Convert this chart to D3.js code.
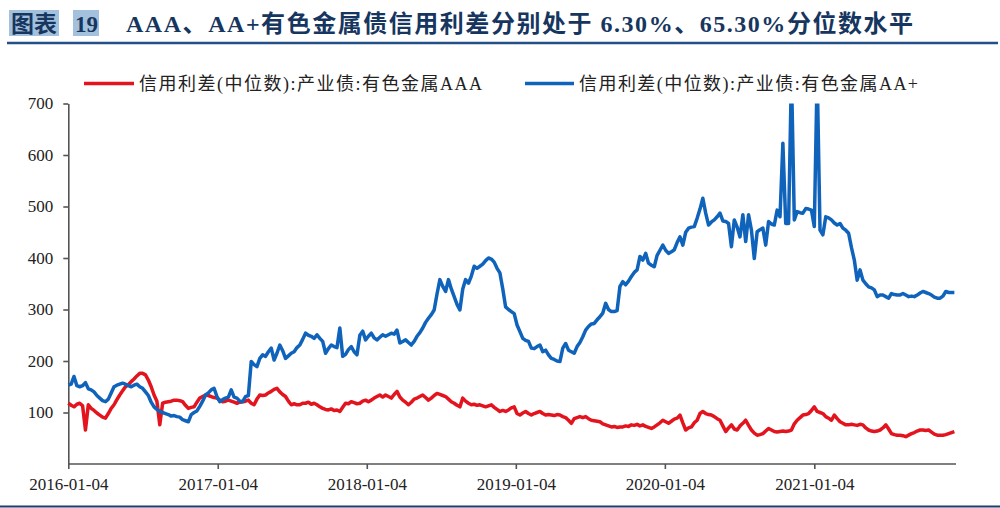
<!DOCTYPE html>
<html><head><meta charset="utf-8">
<script src="https://cdn.jsdelivr.net/npm/d3@7"></script>
<style>html,body{margin:0;padding:0;background:#fff;}svg{display:block;}</style>
</head><body>
<svg id="chart" width="1000" height="508"></svg>
<script>
// ---- data ----
const startDate = "2016-01-04";   // weekly observations start
const endDate = "2021-12-17";     // axis end
const xTickLabels = ["2016-01-04","2017-01-04","2018-01-04","2019-01-04","2020-01-04","2021-01-04"];
const yTickValues = [100,200,300,400,500,600,700];
const seriesNames = ["信用利差(中位数):产业债:有色金属AAA","信用利差(中位数):产业债:有色金属AA+"];
const aaaValues = [
118,114,111,116,118,113,66,115,108,104,99,95,91,89,98,108,115,125,134,142,
150,154,160,165,171,176,176,173,163,150,134,122,76,118,120,121,122,124,124,123,
121,114,108,110,111,120,128,131,134,133,131,129,128,124,121,122,124,122,120,118,
120,121,122,124,118,115,126,134,133,134,138,141,145,147,140,135,131,122,115,117,
115,115,118,118,120,116,118,115,111,108,106,105,107,104,105,102,110,118,117,121,
119,117,118,122,124,121,124,128,131,134,130,134,131,128,135,141,130,124,120,115,
120,126,128,131,134,129,124,128,133,137,135,133,131,126,121,118,114,111,128,122,
118,115,116,114,115,113,111,113,115,110,106,102,104,102,105,109,111,98,95,99,
102,98,95,98,100,102,98,95,96,95,94,96,95,92,90,85,79,88,90,92,
90,92,88,85,84,83,82,78,76,74,72,73,71,72,72,74,73,76,75,77,
74,76,73,71,69,72,76,80,85,82,79,83,87,89,95,80,66,70,72,80,
85,98,102,98,96,95,92,88,85,74,63,70,76,68,66,74,79,85,75,66,
60,56,57,59,64,69,66,63,62,63,64,63,64,66,78,85,90,95,96,98,
104,111,102,100,98,92,89,85,95,88,82,79,76,76,77,76,75,77,76,70,
66,64,63,64,66,70,76,68,59,57,56,56,55,53,56,59,61,64,66,66,
65,66,62,58,56,56,56,57,59,61,63
];
const aaPlusValues = [
153,155,170,152,150,152,158,146,144,140,133,128,123,121,126,138,150,153,155,157,
155,152,150,153,155,150,147,140,133,120,111,106,102,100,98,96,93,94,92,91,
86,84,82,96,100,103,112,122,134,138,144,147,131,121,125,128,130,144,130,128,
122,121,131,133,199,193,189,205,212,209,218,225,202,215,231,220,205,210,215,218,
226,231,242,254,250,248,244,251,244,238,215,224,231,228,226,264,209,213,222,228,
218,212,250,258,241,248,254,245,241,246,251,248,251,254,252,260,235,238,241,236,
231,238,248,255,264,275,283,290,299,330,358,345,335,358,340,325,310,299,340,358,
351,365,384,380,384,388,395,400,398,392,380,371,340,305,300,296,292,270,257,244,
240,238,225,224,228,231,218,221,212,205,203,200,199,225,234,221,218,215,228,236,
247,260,267,272,273,280,286,293,312,300,296,296,298,345,354,348,355,364,372,377,
403,396,409,390,386,383,405,415,425,415,409,412,416,430,441,425,450,458,460,461,
477,495,516,487,464,470,474,480,487,472,471,467,422,474,460,441,484,432,484,454,
399,451,455,458,425,471,466,464,493,480,623,467,467,760,474,490,488,487,496,495,
493,461,760,454,445,480,478,474,468,464,467,458,454,448,420,396,357,377,357,350,
344,342,338,325,328,328,325,322,331,329,328,328,331,328,325,326,325,328,332,335,
333,331,328,324,322,322,326,335,333,333,333
];
const seriesColors = ["#E3141E","#0F63BB"];

// ---- chart ----
const svg = d3.select("#chart");
const parse = d3.utcParse("%Y-%m-%d");
const t0 = parse(startDate);
const weeks = aaaValues.map((_, i) => d3.utcDay.offset(t0, 7 * i));

const x = d3.scaleUtc().domain([t0, parse(endDate)]).range([68.3, 956]);
const y = d3.scaleLinear().domain([0, 700]).range([464, 103.5]);

// Title
const navy = "#17365f";
svg.append("rect").attr("x", 9).attr("y", 10).attr("width", 50).attr("height", 26).attr("fill", "#a3c0dc");
svg.append("rect").attr("x", 73).attr("y", 10).attr("width", 26).attr("height", 26).attr("fill", "#a3c0dc");
const titleFont = "'Liberation Serif','Noto Sans CJK SC',serif";
svg.append("text").attr("x", 11).attr("y", 31.5).attr("font-family", titleFont).attr("font-weight", "bold")
  .attr("font-size", 23).attr("fill", navy).attr("textLength", 46).attr("lengthAdjust", "spacingAndGlyphs").text("图表");
svg.append("text").attr("x", 75).attr("y", 31.5).attr("font-family", titleFont).attr("font-weight", "bold")
  .attr("font-size", 23).attr("fill", navy).text("19");
svg.append("text").attr("x", 126).attr("y", 31.5).attr("font-family", titleFont).attr("font-weight", "bold")
  .attr("font-size", 24).attr("fill", navy).attr("textLength", 787).attr("lengthAdjust", "spacing")
  .text("AAA、AA+有色金属债信用利差分别处于 6.30%、65.30%分位数水平");
svg.append("line").attr("x1", 7).attr("x2", 998).attr("y1", 43).attr("y2", 43)
  .attr("stroke", "#24508a").attr("stroke-width", 2.6);
svg.append("line").attr("x1", 0).attr("x2", 1000).attr("y1", 506.5).attr("y2", 506.5)
  .attr("stroke", "#1f3c6e").attr("stroke-width", 2);

// Legend
const legFont = "'Liberation Serif','Noto Sans CJK SC',serif";
const legendItems = [
  {x1: 84, x2: 134, tx: 139, tl: 343},
  {x1: 525, x2: 574, tx: 579, tl: 339}
];
legendItems.forEach((d, k) => {
  svg.append("line").attr("x1", d.x1).attr("x2", d.x2).attr("y1", 83.5).attr("y2", 83.5)
    .attr("stroke", seriesColors[k]).attr("stroke-width", 3.5);
  svg.append("text").attr("x", d.tx).attr("y", 90).attr("font-family", legFont).attr("font-size", 18)
    .attr("fill", "#222").attr("textLength", d.tl).attr("lengthAdjust", "spacing").text(seriesNames[k]);
});

// Axes
const axisColor = "#555";
const tickFont = "'Liberation Serif','Times New Roman',serif";
const yAxis = svg.append("g").attr("transform", "translate(68.3,0)")
  .call(d3.axisLeft(y).tickValues(yTickValues).tickSize(5).tickSizeOuter(0).tickPadding(10));
const xAxis = svg.append("g").attr("transform", "translate(0,464)")
  .call(d3.axisBottom(x).tickValues(xTickLabels.map(parse)).tickSize(5).tickSizeOuter(0)
    .tickFormat(d3.utcFormat("%Y-%m-%d")).tickPadding(9));
[yAxis, xAxis].forEach(g => {
  g.attr("font-family", tickFont);
  g.select(".domain").attr("stroke", axisColor).attr("stroke-width", 1.6);
  g.selectAll(".tick line").attr("stroke", axisColor).attr("stroke-width", 1.6);
  g.selectAll(".tick text").attr("font-family", tickFont).attr("font-size", 17).attr("fill", "#222");
});
// extend x axis domain to axis end
xAxis.select(".domain").attr("d", `M${x.range()[0]},0H${x.range()[1]}`);

// Clip
svg.append("clipPath").attr("id", "plotclip").append("rect")
  .attr("x", 60).attr("y", 103.5).attr("width", 910).attr("height", 370);

const line = d3.line().x((d, i) => x(weeks[i])).y(d => y(d));
const plot = svg.append("g").attr("clip-path", "url(#plotclip)");
[aaaValues, aaPlusValues].forEach((vals, k) => {
  plot.append("path").datum(vals).attr("d", line).attr("fill", "none")
    .attr("stroke", seriesColors[k]).attr("stroke-width", 3.5).attr("stroke-linejoin", "round");
});
</script>
</body></html>
